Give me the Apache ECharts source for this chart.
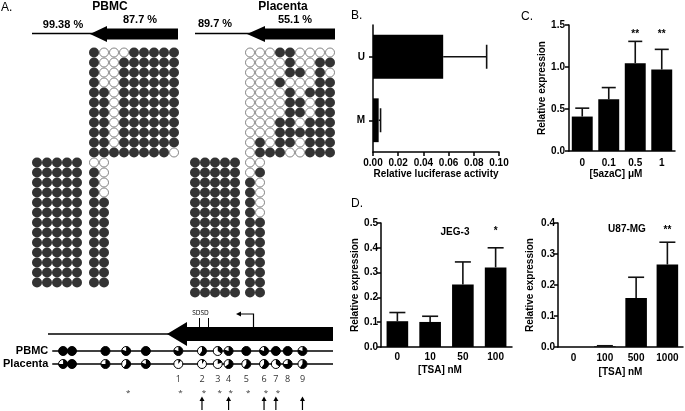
<!DOCTYPE html>
<html><head><meta charset="utf-8">
<script src="https://cdn.jsdelivr.net/npm/echarts@6/dist/echarts.min.js"></script>
<style>html,body{margin:0;padding:0;background:#fff}#c{width:685px;height:411px}</style>
</head><body><div id="c"></div>
<script>
// ===== Panel A: bisulfite clones (1 = methylated / filled, 0 = unmethylated / open) =====
const pbmcUpper = ['100011111','100111111','100111111','100111111','110111111','110111111',
  '110111111','110111111','110111111','110111111','111111110'];
const pbmcLowerPair = ['00','10','10','10','11','11','11','11','11','11','11','11','11'];
const pbmcLowerBlock = ['11111','11111','11111','11111','11111','11111','11111','11111',
  '11111','11111','11111','11111','11111'];
const placentaUpper = ['000110000','000010011','000011010','000100011','000010111','000011011',
  '000011011','000110111','000111111','010110111','011100111'];
const placentaLowerPair = ['00','01','10','10','10','10','11','11','11','11','11','11','11','11'];
const placentaLowerBlock = ['11111','11111','11111','11111','11111','11111','11111','11111',
  '11111','11111','11111','11111','11111','11111'];

// CpG map (relative position along the fragment)
const cpgPos = [11, 20, 54, 75, 95, 128, 152, 168, 179, 197, 215, 227, 239, 254];
const pbmcFrac = [1, 1, 1, 0.8, 1, 0.8, 0.6, 0.35, 0.8, 1, 0.8, 1, 1, 0.8];
const placentaFrac = [0.75, 1, 0.75, 0.6, 0.8, 0.1, 0.1, 0.2, 0.65, 0.6, 0.6, 0.35, 0.75, 0.6];
const cpgNumber = ['', '', '', '', '', '1', '2', '3', '4', '5', '6', '7', '8', '9'];
const cpgStar = [0, 0, 0, 1, 0, 1, 1, 1, 1, 1, 1, 1, 0, 0];
const cpgArrow = [0, 0, 0, 0, 0, 0, 1, 0, 1, 0, 1, 1, 0, 1];
const tracks = ['PBMC', 'Placenta', '', '', ''];

// ===== Panel B =====
const bCats = ['U', 'M'];
const bMeans = [0.0557, 0.0045];
const bErrs = [0.0345, 0.0015];
// ===== Panel C =====
const cCats = ['0', '0.1', '0.5', '1'];
const cMeans = [0.41, 0.615, 1.045, 0.97];
const cErrs = [0.10, 0.14, 0.26, 0.24];
const cSig = ['', '', '**', '**'];
// ===== Panel D =====
const d1Cats = ['0', '10', '50', '100'];
const d1Means = [0.104, 0.101, 0.252, 0.321];
const d1Errs = [0.035, 0.023, 0.091, 0.079];
const d1Sig = ['', '', '', '*'];
const d2Cats = ['0', '100', '500', '1000'];
const d2Means = [0, 0.002, 0.158, 0.266];
const d2Errs = [0, 0.002, 0.067, 0.072];
const d2Sig = ['', '', '', '**'];

const FONT = 'Arial';

function blockData(rows, rowOffset) {
  const out = [];
  rows.forEach((s, r) => {
    for (let c = 0; c < s.length; c++) {
      const v = +s[c];
      out.push({
        value: [c, r + rowOffset, v],
        symbolSize: v ? 10 : 9,
        itemStyle: v ? {color: '#000', borderWidth: 0} : {color: '#fff', borderColor: '#555', borderWidth: 0.9}
      });
    }
  });
  return out;
}
function blockSeries(gi, data) {
  return {type: 'scatter', xAxisIndex: gi, yAxisIndex: gi, symbol: 'circle', data: data, clip: false,
    emphasis: {disabled: true}, silent: true};
}

function errSeries(gi, means, errs, horizontal, capHalf) {
  return {
    type: 'custom', xAxisIndex: gi, yAxisIndex: gi, z: 3, silent: true,
    data: means.map((m, i) => horizontal ? [m, i, errs[i]] : [i, m, errs[i]]),
    renderItem(params, api) {
      const e = api.value(2);
      if (!(e > 0)) return null;
      let p0, p1, cap;
      if (horizontal) {
        const m = api.value(0), i = api.value(1);
        p0 = api.coord([m, i]); p1 = api.coord([m + e, i]);
        cap = {x1: p1[0], y1: p1[1] - capHalf, x2: p1[0], y2: p1[1] + capHalf};
      } else {
        const i = api.value(0), m = api.value(1);
        p0 = api.coord([i, m]); p1 = api.coord([i, m + e]);
        cap = {x1: p1[0] - capHalf, y1: p1[1], x2: p1[0] + capHalf, y2: p1[1]};
      }
      const st = {stroke: '#111', lineWidth: 1.6};
      return {type: 'group', children: [
        {type: 'line', shape: {x1: p0[0], y1: p0[1], x2: p1[0], y2: p1[1]}, style: st},
        {type: 'line', shape: cap, style: st}]};
    }
  };
}
function sigSeries(gi, sig, yVal) {
  return {
    type: 'custom', xAxisIndex: gi, yAxisIndex: gi, z: 4, silent: true,
    data: sig.map((s, i) => [i, yVal, s]),
    renderItem(params, api) {
      const s = sig[params.dataIndex];
      if (!s) return null;
      const p = api.coord([api.value(0), api.value(1)]);
      return {type: 'text', style: {text: s, x: p[0], y: p[1] + 3, fill: '#000',
        font: 'bold 10px ' + FONT, align: 'center', verticalAlign: 'middle'}};
    }
  };
}
function barSeries(gi, means, width) {
  return {type: 'bar', xAxisIndex: gi, yAxisIndex: gi, data: means, barWidth: width,
    itemStyle: {color: '#000'}, silent: true, z: 2};
}

const axLine = {show: true, lineStyle: {color: '#000', width: 1.5}};
const axTick = {show: true, length: 4, lineStyle: {color: '#000', width: 1.5}};
function lab(extra) {
  return Object.assign({color: '#000', fontFamily: FONT, fontWeight: 700, fontSize: 10}, extra || {});
}
const nameStyle = {color: '#000', fontFamily: FONT, fontWeight: 700, fontSize: 10};

function hidden(gi, min, max, inverse) {
  return {gridIndex: gi, type: 'value', min: min, max: max, inverse: !!inverse, show: false,
    splitLine: {show: false}};
}

// lollipop renderer
function lolliSeries(fracs, row) {
  return {
    type: 'custom', xAxisIndex: 4, yAxisIndex: 4, z: 3, silent: true,
    data: cpgPos.map((x, i) => [x, row, fracs[i]]),
    renderItem(params, api) {
      const p = api.coord([api.value(0), api.value(1)]);
      const f = api.value(2), r = 4.5;
      const kids = [{type: 'circle', shape: {cx: p[0], cy: p[1], r: r},
        style: {fill: f >= 0.999 ? '#000' : '#fff', stroke: '#000', lineWidth: 1}}];
      if (f > 0 && f < 0.999) {
        kids.push({type: 'sector', shape: {cx: p[0], cy: p[1], r: r, r0: 0,
          startAngle: -Math.PI / 2, endAngle: -Math.PI / 2 + 2 * Math.PI * f, clockwise: true},
          style: {fill: '#000'}});
      }
      return {type: 'group', children: kids};
    }
  };
}

const T = (text, x, y, font, align) => ({type: 'text', silent: true, z: 10,
  style: {text: text, x: x, y: y, fill: '#000', font: font || ('bold 11px ' + FONT),
    textAlign: align || 'center', align: align || 'center', textVerticalAlign: 'middle', verticalAlign: 'middle'}});
const L = (x1, y1, x2, y2, w) => ({type: 'line', silent: true, z: 10,
  shape: {x1: x1, y1: y1, x2: x2, y2: y2}, style: {stroke: '#000', lineWidth: w || 1.5}});
const P = (pts) => ({type: 'polygon', silent: true, z: 10, shape: {points: pts}, style: {fill: '#000'}});
function bigArrow(tip, back, end, cy, hh, bh) {
  return P([[tip, cy], [back, cy - hh], [back, cy - bh], [end, cy - bh], [end, cy + bh], [back, cy + bh], [back, cy + hh]]);
}

const chart = echarts.init(document.getElementById('c'), null, {renderer: 'canvas'});
const option = {
  animation: false,
  backgroundColor: '#fff',
  textStyle: {fontFamily: FONT},
  grid: [
    {left: 89, top: 47.5, width: 90, height: 240},
    {left: 32, top: 157.5, width: 50, height: 130},
    {left: 245, top: 47.5, width: 90, height: 250},
    {left: 190, top: 157.5, width: 50, height: 140},
    {left: 48, top: 344.5, width: 285, height: 65},
    {left: 373, top: 25, width: 126, height: 127},
    {left: 569, top: 25, width: 106, height: 126},
    {left: 381, top: 223, width: 131, height: 124},
    {left: 558, top: 223, width: 125, height: 124}
  ],
  xAxis: [
    hidden(0, -0.5, 8.5), hidden(1, -0.5, 4.5), hidden(2, -0.5, 8.5), hidden(3, -0.5, 4.5),
    hidden(4, 0, 285),
    {gridIndex: 5, type: 'value', min: 0, max: 0.1, interval: 0.02, axisLine: axLine, axisTick: axTick,
      splitLine: {show: false}, axisLabel: lab({margin: 6, formatter: v => v.toFixed(2)}),
      name: 'Relative luciferase activity', nameLocation: 'middle', nameGap: 17, nameTextStyle: nameStyle},
    {gridIndex: 6, type: 'category', data: cCats, axisLine: axLine, axisTick: {show: false},
      axisLabel: lab({margin: 7, interval: 0}), name: '[5azaC] μM', nameLocation: 'middle', nameGap: 18,
      nameTextStyle: Object.assign({padding: [0, 12, 0, 0]}, nameStyle)},
    {gridIndex: 7, type: 'category', data: d1Cats, axisLine: axLine, axisTick: {show: false},
      axisLabel: lab({margin: 5, interval: 0}), name: '[TSA] nM', nameLocation: 'middle', nameGap: 18,
      nameTextStyle: Object.assign({padding: [0, 13, 0, 0]}, nameStyle)},
    {gridIndex: 8, type: 'category', data: d2Cats, axisLine: axLine, axisTick: {show: false},
      axisLabel: lab({margin: 6, interval: 0}), name: '[TSA] nM', nameLocation: 'middle', nameGap: 20,
      nameTextStyle: nameStyle}
  ],
  yAxis: [
    hidden(0, -0.5, 23.5, true), hidden(1, -0.5, 12.5, true), hidden(2, -0.5, 24.5, true), hidden(3, -0.5, 13.5, true),
    {gridIndex: 4, type: 'category', data: tracks, inverse: true, axisLine: {show: false}, axisTick: {show: false},
      splitLine: {show: false}, axisLabel: lab({fontSize: 11, margin: 4, interval: 0})},
    {gridIndex: 5, type: 'category', data: bCats, inverse: true, axisLine: axLine,
      axisTick: Object.assign({alignWithLabel: true}, axTick), axisLabel: lab({margin: 8, interval: 0})},
    {gridIndex: 6, type: 'value', min: 0, max: 1.5, interval: 0.5, axisLine: axLine, axisTick: axTick,
      splitLine: {show: false}, axisLabel: lab({margin: 4, formatter: v => v.toFixed(1)}),
      name: 'Relative expression', nameLocation: 'middle', nameGap: 22, nameTextStyle: nameStyle},
    {gridIndex: 7, type: 'value', min: 0, max: 0.5, interval: 0.1, axisLine: axLine, axisTick: axTick,
      splitLine: {show: false}, axisLabel: lab({margin: 3, formatter: v => v.toFixed(1)}),
      name: 'Relative expression', nameLocation: 'middle', nameGap: 21, nameTextStyle: nameStyle},
    {gridIndex: 8, type: 'value', min: 0, max: 0.4, interval: 0.1, axisLine: axLine, axisTick: axTick,
      splitLine: {show: false}, axisLabel: lab({margin: 3, formatter: v => v.toFixed(1)}),
      name: 'Relative expression', nameLocation: 'middle', nameGap: 23, nameTextStyle: nameStyle}
  ],
  series: [
    blockSeries(0, blockData(pbmcUpper, 0).concat(blockData(pbmcLowerPair, 11))),
    blockSeries(1, blockData(pbmcLowerBlock, 0)),
    blockSeries(2, blockData(placentaUpper, 0).concat(blockData(placentaLowerPair, 11))),
    blockSeries(3, blockData(placentaLowerBlock, 0)),
    // row lines
    {type: 'custom', xAxisIndex: 4, yAxisIndex: 4, z: 2, silent: true, data: [[0, 0], [0, 1]],
      renderItem(params, api) {
        const cs = params.coordSys; const p = api.coord([0, api.value(1)]);
        return {type: 'line', shape: {x1: cs.x, y1: p[1], x2: cs.x + cs.width, y2: p[1]},
          style: {stroke: '#000', lineWidth: 1.3}};
      }},
    lolliSeries(pbmcFrac, 0),
    lolliSeries(placentaFrac, 1),
    // CpG numbers, stars, arrows
    {type: 'custom', xAxisIndex: 4, yAxisIndex: 4, z: 3, silent: true,
      data: cpgPos.map((x, i) => [x, 2]),
      renderItem(params, api) {
        const i = params.dataIndex; const kids = [];
        const p = api.coord([api.value(0), 2]);
        if (cpgNumber[i]) kids.push({type: 'text', style: {text: cpgNumber[i], x: p[0], y: p[1] + 2,
          fill: '#333', font: '9px "Open Sans", sans-serif', align: 'center', verticalAlign: 'middle'}});
        if (cpgStar[i]) {
          const q = api.coord([api.value(0), 3]);
          kids.push({type: 'text', style: {text: '*', x: q[0] + 2, y: q[1] + 3, fill: '#333',
            font: '8px "Open Sans", sans-serif', align: 'center', verticalAlign: 'middle'}});
        }
        if (cpgArrow[i]) {
          const q = api.coord([api.value(0), 4]);
          kids.push({type: 'line', shape: {x1: q[0], y1: q[1] + 7, x2: q[0], y2: q[1] - 3},
            style: {stroke: '#000', lineWidth: 1.2}});
          kids.push({type: 'polygon', shape: {points: [[q[0], q[1] - 6.5], [q[0] - 2.5, q[1] - 2], [q[0] + 2.5, q[1] - 2]]},
            style: {fill: '#000'}});
        }
        return {type: 'group', children: kids};
      }},
    // Panel B
    barSeries(5, bMeans, '69%'),
    errSeries(5, bMeans, bErrs, true, 12),
    // Panel C
    barSeries(6, cMeans, '79%'),
    errSeries(6, cMeans, cErrs, false, 7),
    sigSeries(6, cSig, 1.42),
    // Panel D
    barSeries(7, d1Means, '66%'),
    errSeries(7, d1Means, d1Errs, false, 8),
    sigSeries(7, d1Sig, 0.48),
    barSeries(8, d2Means, '69%'),
    errSeries(8, d2Means, d2Errs, false, 8),
    sigSeries(8, d2Sig, 0.385)
  ],
  graphic: [
    T('A.', 1, 8, '12px ' + FONT, 'left'),
    T('B.', 351, 16, '12px ' + FONT, 'left'),
    T('C.', 521, 17, '12px ' + FONT, 'left'),
    T('D.', 351, 204, '12px ' + FONT, 'left'),
    T('PBMC', 110, 7, 'bold 12px ' + FONT),
    T('Placenta', 283, 7, 'bold 12px ' + FONT),
    T('99.38 %', 63, 25),
    T('87.7 %', 140, 19.5),
    T('89.7 %', 215, 24),
    T('55.1 %', 295, 19.5),
    L(32, 33.5, 95, 33.5, 1.5),
    L(195, 33.5, 252, 33.5, 1.5),
    bigArrow(90, 107, 178, 34, 8, 5.5),
    bigArrow(247, 265, 335, 34, 8, 5.5),
    T('JEG-3', 455, 232, 'bold 10px ' + FONT),
    T('U87-MG', 627, 229, 'bold 10px ' + FONT),
    // gene schematic
    L(48, 334, 172, 334, 1.3),
    bigArrow(167, 187, 333, 334, 12, 7),
    L(199.5, 318, 199.5, 328, 1),
    L(208.5, 318, 208.5, 328, 1),
    T('SDSD', 200.5, 313, '6.5px "Open Sans", sans-serif'),
    {type: 'polyline', silent: true, z: 10, shape: {points: [[253.5, 328], [253.5, 314], [240, 314]]},
      style: {stroke: '#000', lineWidth: 1.2, fill: null}},
    P([[236, 314], [241, 311.5], [241, 316.5]])
  ]
};
chart.setOption(option);
</script>
</body></html>
